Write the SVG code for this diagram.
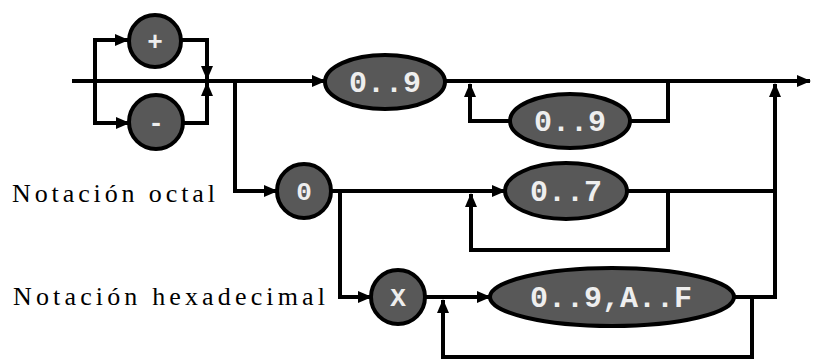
<svg xmlns="http://www.w3.org/2000/svg" width="814" height="360" viewBox="0 0 814 360">
<style>
.ln{fill:none;stroke:#000;stroke-width:4}
.nd{fill:#585858;stroke:#000;stroke-width:4}
.tk{font-family:"Liberation Mono",monospace;font-weight:bold;fill:#eeeeee;text-anchor:middle}
.lb{font-family:"Liberation Serif",serif;font-size:26px;fill:#000}
</style>
<defs>
<marker id="ar" markerUnits="userSpaceOnUse" markerWidth="14" markerHeight="14" viewBox="0 0 14 14" refX="13" refY="7" orient="auto">
<path d="M0,1 L14,7 L0,13 Z" fill="#000"/>
</marker>
</defs>
<rect width="814" height="360" fill="#fff"/>
<g id="connectors">
<path class="ln" d="M72,81 H325" marker-end="url(#ar)"/>
<path class="ln" d="M445,81 H810" marker-end="url(#ar)"/>
<path class="ln" d="M95,81 V40 H128" marker-end="url(#ar)"/>
<path class="ln" d="M95,81 V123 H129" marker-end="url(#ar)"/>
<path class="ln" d="M182,40 H207 V79" marker-end="url(#ar)"/>
<path class="ln" d="M183,123 H207 V83" marker-end="url(#ar)"/>
<path class="ln" d="M668,81 V121 H630"/>
<path class="ln" d="M510,121 H470 V84" marker-end="url(#ar)"/>
<path class="ln" d="M235,81 V191 H277" marker-end="url(#ar)"/>
<path class="ln" d="M331,191 H505" marker-end="url(#ar)"/>
<path class="ln" d="M627,191 H775"/>
<path class="ln" d="M627,191 H668 V250 H471 V194" marker-end="url(#ar)"/>
<path class="ln" d="M340,191 V297 H371" marker-end="url(#ar)"/>
<path class="ln" d="M425,297 H490" marker-end="url(#ar)"/>
<path class="ln" d="M733,297 H775 V84" marker-end="url(#ar)"/>
<path class="ln" d="M733,297 H752 V357 H443 V300" marker-end="url(#ar)"/>
</g>
<g id="plus"><circle class="nd" cx="155" cy="41" r="26"/><text class="tk" x="155" y="50" font-size="26">+</text></g>
<g id="minus"><circle class="nd" cx="156" cy="122" r="27"/><text class="tk" x="156" y="131" font-size="26">-</text></g>
<g id="digits1"><ellipse class="nd" cx="385" cy="82" rx="60" ry="27"/><text class="tk" x="385" y="92" font-size="30">0..9</text></g>
<g id="digits2"><ellipse class="nd" cx="570" cy="121" rx="60" ry="27"/><text class="tk" x="570" y="131" font-size="30">0..9</text></g>
<g id="zero"><circle class="nd" cx="304" cy="191" r="27"/><text class="tk" x="304" y="200" font-size="26">0</text></g>
<g id="octal"><ellipse class="nd" cx="566" cy="191" rx="61" ry="28"/><text class="tk" x="566" y="201" font-size="30">0..7</text></g>
<g id="x"><circle class="nd" cx="398" cy="297" r="27"/><text class="tk" x="398" y="306" font-size="26">X</text></g>
<g id="hex"><ellipse class="nd" cx="612" cy="297" rx="122" ry="29"/><text class="tk" x="611" y="307" font-size="30">0..9,A..F</text></g>
<g id="labels">
<text class="lb" x="12" y="202" textLength="203" lengthAdjust="spacing">Notación octal</text>
<text class="lb" x="13" y="305" textLength="312" lengthAdjust="spacing">Notación hexadecimal</text>
</g>
</svg>
